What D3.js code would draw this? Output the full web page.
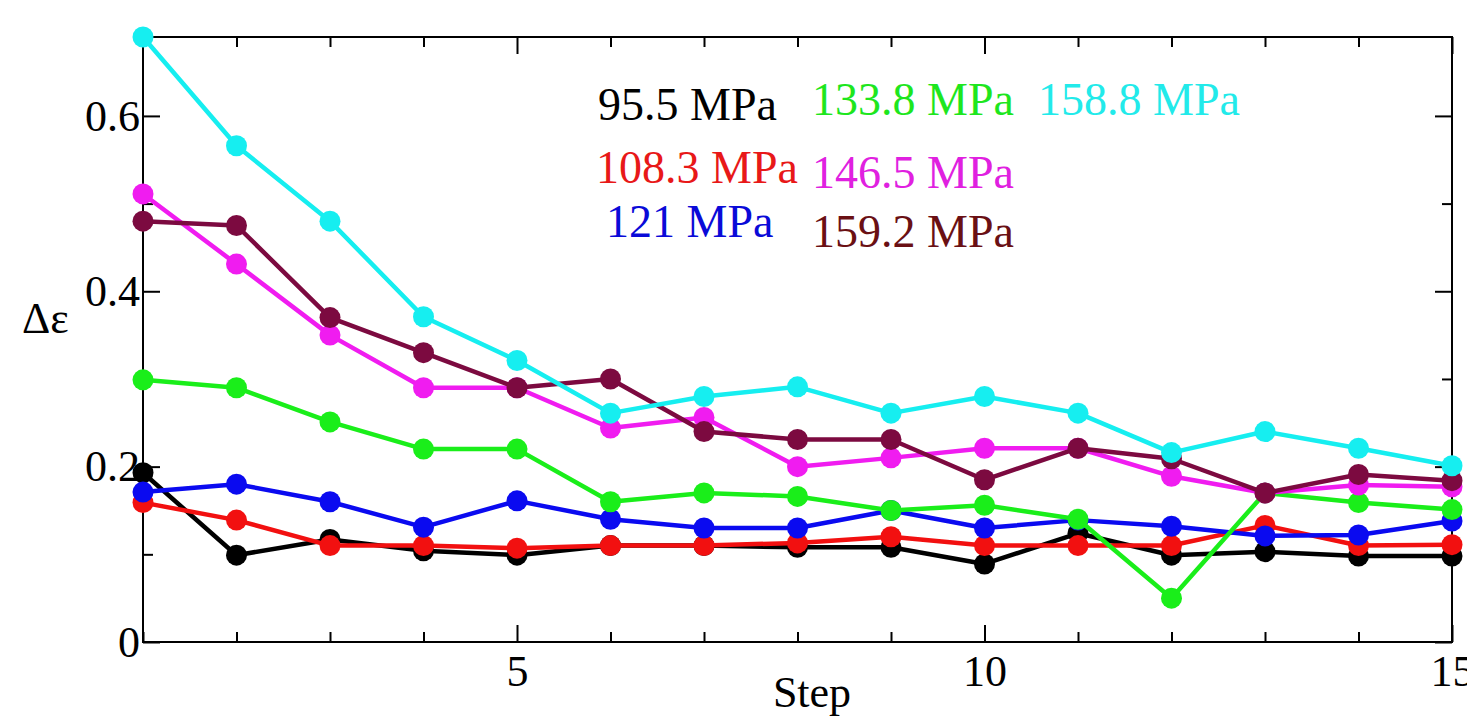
<!DOCTYPE html>
<html>
<head>
<meta charset="utf-8">
<script src="https://cdn.jsdelivr.net/npm/d3@7"></script>
<style>
  html, body { margin: 0; padding: 0; background: #fff; }
  svg { display: block; }
  text { font-family: "Liberation Serif", "Times New Roman", serif; }
</style>
</head>
<body>
<div id="chart"></div>
<script>
// data
const steps = d3.range(1, 16);

const s95  = [0.193, 0.099, 0.117, 0.104, 0.099, 0.110, 0.110, 0.108, 0.108, 0.089, 0.124, 0.099, 0.103, 0.098, 0.098];
const s108 = [0.159, 0.139, 0.110, 0.110, 0.107, 0.110, 0.110, 0.113, 0.120, 0.110, 0.110, 0.110, 0.133, 0.110, 0.111];
const s121 = [0.171, 0.180, 0.160, 0.131, 0.161, 0.140, 0.130, 0.130, 0.150, 0.130, 0.139, 0.132, 0.121, 0.122, 0.138];
const s133 = [0.299, 0.290, 0.251, 0.220, 0.220, 0.160, 0.170, 0.166, 0.150, 0.156, 0.140, 0.050, 0.170, 0.159, 0.151];
const s146 = [0.511, 0.431, 0.350, 0.290, 0.290, 0.244, 0.256, 0.200, 0.210, 0.221, 0.221, 0.189, 0.170, 0.179, 0.177];
const s159 = [0.480, 0.475, 0.370, 0.330, 0.290, 0.300, 0.240, 0.231, 0.231, 0.185, 0.221, 0.209, 0.170, 0.191, 0.184];
const s158 = [0.690, 0.566, 0.480, 0.371, 0.321, 0.261, 0.280, 0.291, 0.261, 0.280, 0.261, 0.216, 0.240, 0.221, 0.201];

const seriesNames  = ["95.5 MPa", "108.3 MPa", "121 MPa", "133.8 MPa", "146.5 MPa", "159.2 MPa", "158.8 MPa"];
const seriesValues = [s95, s108, s121, s133, s146, s159, s158];
const seriesColors = ["#000000", "#f21010", "#0a0af0", "#1aee1a", "#f01cf0", "#7c0a40", "#16eef0"];
const legendColors = ["#000000", "#e81818", "#0a0ad8", "#1ee61e", "#e020e0", "#6a1014", "#22eaea"];

const xMajor = [5, 10, 15];
const xMinor = steps.filter(d => !xMajor.includes(d));
const yMajor = [0, 0.2, 0.4, 0.6];
const yMinor = [0.1, 0.3, 0.5];

const W = 1467, H = 719;
const m = { left: 143, right: 15, top: 37, bottom: 77 };

const svg = d3.select("#chart").append("svg")
  .attr("width", W).attr("height", H)
  .attr("viewBox", [0, 0, W, H]);

const x = d3.scaleLinear().domain([1, 15]).range([m.left, W - m.right]);
const y = d3.scaleLinear().domain([0, 0.69]).range([H - m.bottom, m.top]);

const fmtY = d => d === 0 ? "0" : d3.format(".1f")(d);

// axes: major with labels, minor ticks, mirrored on top/right
function styleAxis(g) {
  g.select(".domain").remove();
  g.selectAll("line").attr("stroke", "#000").attr("stroke-width", 2);
  g.selectAll("text").attr("fill", "#000").attr("font-size", 44)
    .attr("font-family", "'Liberation Serif', serif");
}

svg.append("g")
  .attr("transform", `translate(0,${y(0)})`)
  .call(d3.axisBottom(x).tickValues(xMajor).tickSize(-17).tickPadding(13).tickFormat(d3.format("d")))
  .call(styleAxis);
svg.append("g")
  .attr("transform", `translate(0,${y(0)})`)
  .call(d3.axisBottom(x).tickValues(xMinor).tickSize(-10).tickFormat(""))
  .call(styleAxis);
svg.append("g")
  .attr("transform", `translate(0,${m.top})`)
  .call(d3.axisTop(x).tickValues(xMajor).tickSize(-17).tickFormat(""))
  .call(styleAxis);
svg.append("g")
  .attr("transform", `translate(0,${m.top})`)
  .call(d3.axisTop(x).tickValues(xMinor).tickSize(-10).tickFormat(""))
  .call(styleAxis);

svg.append("g")
  .attr("transform", `translate(${x(1)},0)`)
  .call(d3.axisLeft(y).tickValues(yMajor).tickSize(-17).tickPadding(3).tickFormat(fmtY))
  .call(styleAxis);
svg.append("g")
  .attr("transform", `translate(${x(1)},0)`)
  .call(d3.axisLeft(y).tickValues(yMinor).tickSize(-10).tickFormat(""))
  .call(styleAxis);
svg.append("g")
  .attr("transform", `translate(${x(15)},0)`)
  .call(d3.axisRight(y).tickValues(yMajor).tickSize(-17).tickFormat(""))
  .call(styleAxis);
svg.append("g")
  .attr("transform", `translate(${x(15)},0)`)
  .call(d3.axisRight(y).tickValues(yMinor).tickSize(-10).tickFormat(""))
  .call(styleAxis);

// frame
svg.append("rect")
  .attr("x", x(1)).attr("y", y(0.69))
  .attr("width", x(15) - x(1)).attr("height", y(0) - y(0.69))
  .attr("fill", "none").attr("stroke", "#000").attr("stroke-width", 2);

// series
const line = d3.line().x((d, i) => x(steps[i])).y(d => y(d));
seriesValues.forEach((vals, k) => {
  const g = svg.append("g");
  g.append("path")
    .attr("d", line(vals))
    .attr("fill", "none")
    .attr("stroke", seriesColors[k])
    .attr("stroke-width", 4.5)
    .attr("stroke-linejoin", "round");
  g.selectAll("circle")
    .data(vals)
    .join("circle")
    .attr("cx", (d, i) => x(steps[i]))
    .attr("cy", d => y(d))
    .attr("r", 10.5)
    .attr("fill", seriesColors[k]);
});

// legend (text only, placed like the original)
const legendPos = [[598, 120], [596, 183], [606, 237], [812, 115], [812, 188], [812, 247], [1038, 115]];
seriesNames.forEach((name, k) => {
  svg.append("text")
    .attr("x", legendPos[k][0]).attr("y", legendPos[k][1])
    .attr("font-size", 46)
    .attr("fill", legendColors[k])
    .text(name);
});

// axis titles
svg.append("text")
  .attr("x", 812).attr("y", 707)
  .attr("text-anchor", "middle")
  .attr("font-size", 44)
  .text("Step");

svg.append("text")
  .attr("x", 22).attr("y", 333)
  .attr("font-size", 44)
  .text("Δε");
</script>
</body>
</html>
